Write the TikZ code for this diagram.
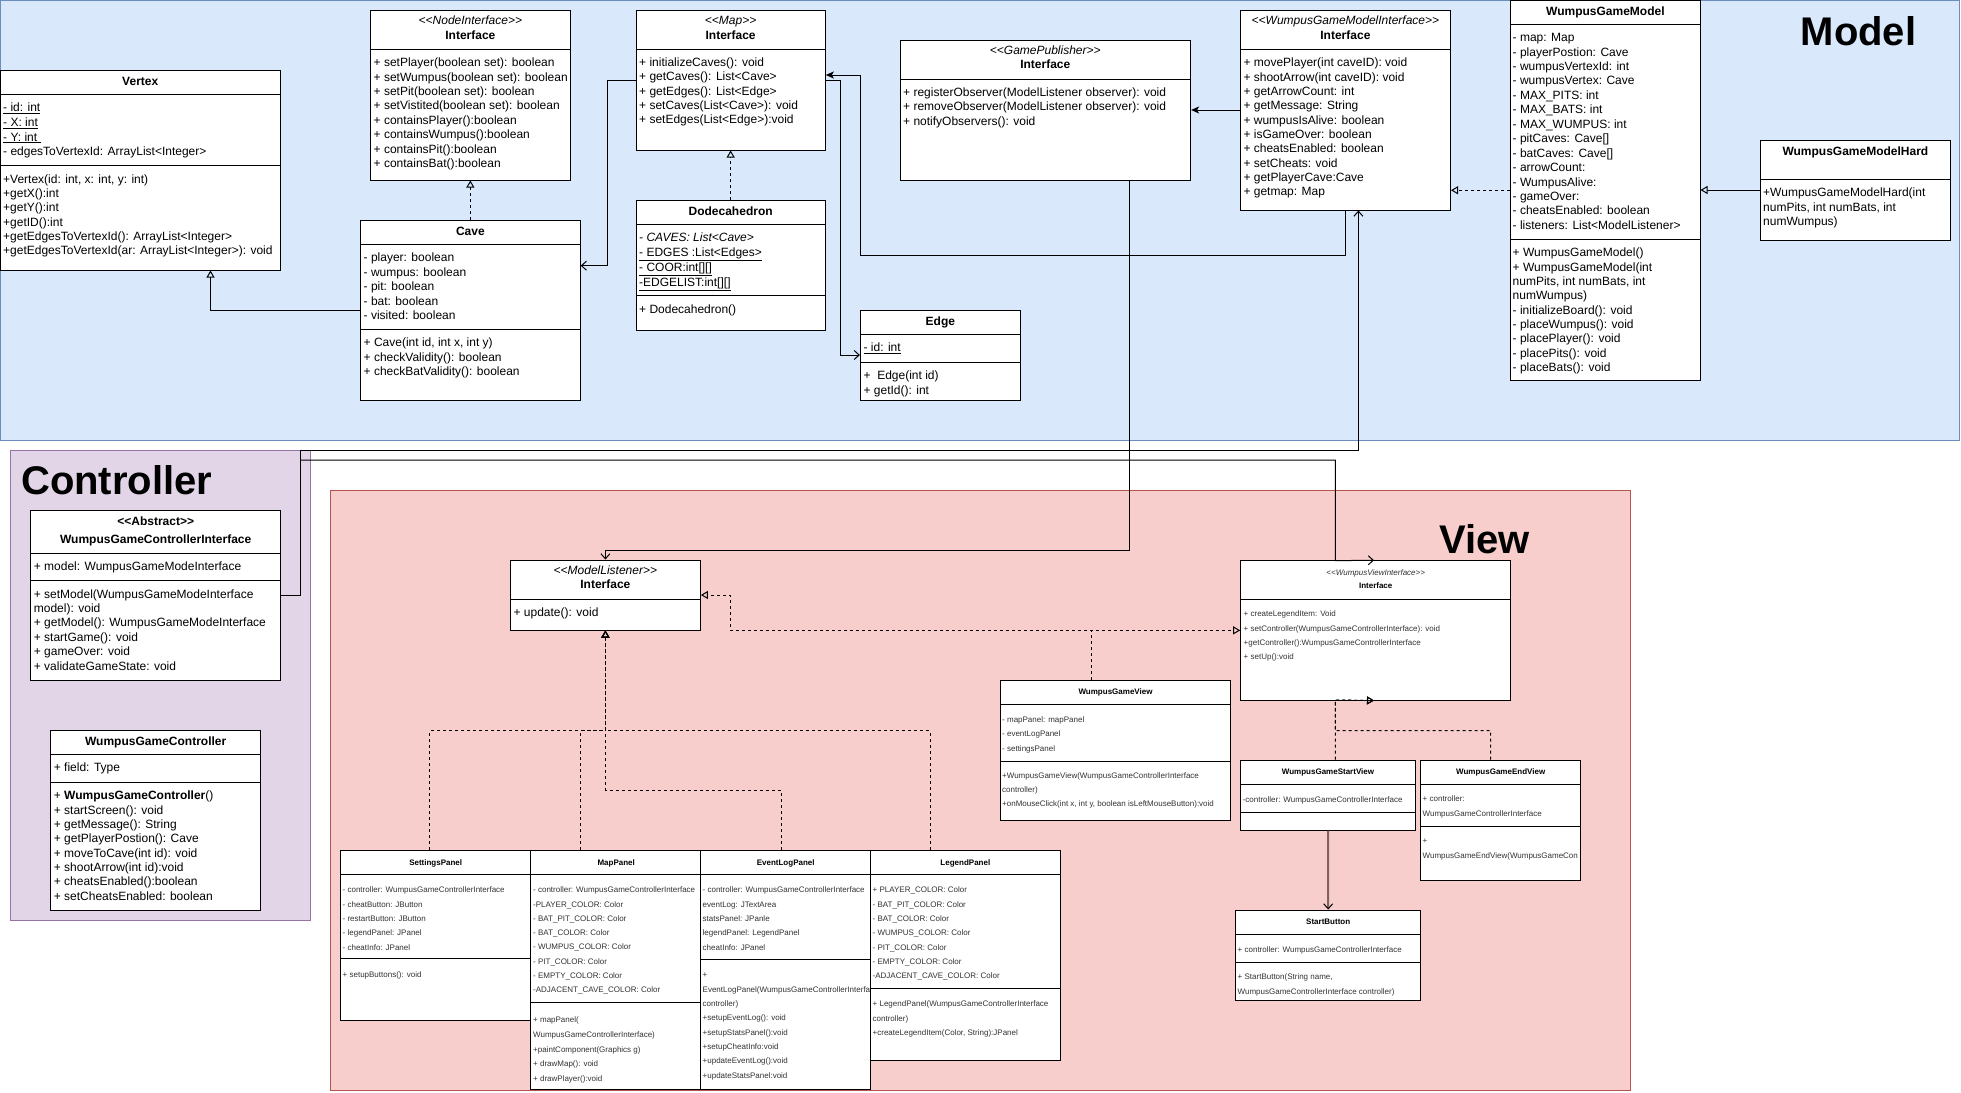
\documentclass[tikz,border=0pt]{standalone}
\usepackage{fontspec}
\setmainfont{Liberation Sans}[Ligatures=TeXOff]
\usetikzlibrary{fit,arrows.meta}
\definecolor{modelfill}{HTML}{DAE8FC}
\definecolor{modeldraw}{HTML}{6C8EBF}
\definecolor{ctrlfill}{HTML}{E1D5E7}
\definecolor{ctrldraw}{HTML}{9673A6}
\definecolor{viewfill}{HTML}{F8CECC}
\definecolor{viewdraw}{HTML}{B85450}
\definecolor{arrowbrown}{HTML}{7F6262}
\definecolor{smalltext}{HTML}{333333}
\tikzset{
 clsbox/.style={draw=black, fill=white, line width=1pt, inner sep=0pt},
 boxline/.style={draw=black, line width=1pt},
 region/.style={inner sep=0pt, line width=1pt},
 t12/.style={font=\fontsize{12}{14}\selectfont, inner sep=0pt, anchor=base west, text=black},
 h12/.style={font=\fontsize{12}{14}\selectfont\bfseries, inner sep=0pt, anchor=base, text=black},
 st12/.style={font=\fontsize{12}{14}\selectfont\itshape, inner sep=0pt, anchor=base, text=black},
 t8/.style={font=\fontsize{8}{10}\selectfont, inner sep=0pt, anchor=base west, text=smalltext},
 h8/.style={font=\fontsize{8}{10}\selectfont\bfseries, inner sep=0pt, anchor=base, text=black},
 st8/.style={font=\fontsize{8}{10}\selectfont\itshape, inner sep=0pt, anchor=base, text=smalltext},
 bigtitle/.style={font=\fontsize{40}{48}\selectfont\bfseries, inner sep=0pt, anchor=base west, text=black},
 realize/.style={line width=1pt, dash pattern=on 3pt off 3pt, -{Triangle[open,length=7pt,width=8pt]}},
 general/.style={line width=1pt, -{Triangle[open,length=7pt,width=8pt]}},
 assoc/.style={line width=1pt, -{Straight Barb[length=5pt,width=9pt]}},
 clsarrow/.style={line width=1pt, -{Stealth[length=8pt,width=7pt,inset=2pt]}},
 thickassoc/.style={line width=2pt, draw=arrowbrown, -{Straight Barb[length=5pt,width=9pt,color=black,line width=1pt]}},
}
\newcommand\umlbox[6]{%
 \node[clsbox, fit={(#2,#3) (#4,#5)}] (#1) {};
 \foreach \dv in {#6} {\draw[boxline] (#2,\dv) -- (#4,\dv);}}
\newcommand\txtlines[6]{%
 \foreach \lnx [count=\lni] in {#6} {\node[#1] (#2-\lni) at (#3,{#4+(\lni-1)*#5}) {\lnx};}}
\begin{document}
\begin{tikzpicture}[x=1pt,y=-1pt]
\useasboundingbox (0,0) rectangle (1961,1092);
\fill[white] (0,0) rectangle (1961,1092);
% regions
\node[region, draw=modeldraw, fill=modelfill, fit={(0.5,0.5) (1959.5,440)}] (modelreg) {};
\node[region, draw=ctrldraw, fill=ctrlfill, fit={(10,450) (310.7,920)}] (ctrlreg) {};
\node[region, draw=viewdraw, fill=viewfill, fit={(330,490) (1630.7,1090)}] (viewreg) {};
\node[bigtitle] (modelt) at (1800.5,45) {Model};
\node[bigtitle] (ctrlt) at (21,494.3) {Controller};
\node[bigtitle] (viewt) at (1439,553) {View};

% ---------- Model ----------
\umlbox{vertex}{0.5}{70}{280}{270}{94.3,165}
\node[h12] (vertex-h) at (140.25,85) {Vertex};
\txtlines{t12}{vtxa}{3}{111.7}{14.67}{\underline{- id: int},\underline{- X: int},\underline{- Y: int\ },- edgesToVertexId: ArrayList<Integer>}
\txtlines{t12}{vtxm}{3}{183}{14.34}{{+Vertex(id: int, x: int, y: int)},+getX():int,+getY():int,+getID():int,+getEdgesToVertexId(): ArrayList<Integer>,+getEdgesToVertexId(ar: ArrayList<Integer>): void}

\umlbox{nodei}{370.5}{10}{570.2}{180}{49.3}
\node[st12] (nodei-s) at (470.35,24.7) {<<NodeInterface>>};
\node[h12] (nodei-h) at (470.35,39) {Interface};
\txtlines{t12}{nodeim}{373.5}{66.7}{14.43}{+ setPlayer(boolean set): boolean,+ setWumpus(boolean set): boolean,+ setPit(boolean set): boolean,+ setVistited(boolean set): boolean,+ containsPlayer():boolean,+ containsWumpus():boolean,+ containsPit():boolean,+ containsBat():boolean}

\umlbox{cave}{360.5}{220}{580.2}{400}{244.3,329.3}
\node[h12] (cave-h) at (470.35,235) {Cave};
\txtlines{t12}{cavea}{363.5}{261.7}{14.5}{- player: boolean,- wumpus: boolean,- pit: boolean,- bat: boolean,- visited: boolean}
\txtlines{t12}{cavem}{363.5}{346.7}{14.5}{{+ Cave(int id, int x, int y)},+ checkValidity(): boolean,+ checkBatValidity(): boolean}

\umlbox{mapi}{636}{10}{825.3}{150}{49.3}
\node[st12] (mapi-s) at (730.65,24.7) {<<Map>>};
\node[h12] (mapi-h) at (730.65,39) {Interface};
\txtlines{t12}{mapim}{639}{66.7}{14.25}{+ initializeCaves(): void,+ getCaves(): List<Cave>,+ getEdges(): List<Edge>,+ setCaves(List<Cave>): void,+ setEdges(List<Edge>):void}

\umlbox{dodec}{636}{200}{825.3}{330}{224.3,295.3}
\node[h12] (dodec-h) at (730.65,215) {Dodecahedron};
\txtlines{t12}{dodeca}{639}{241.7}{14.77}{\textit{- CAVES: List<Cave>},\underline{- EDGES :List<Edges>},{\underline{- COOR:int[][]}},{\underline{-EDGELIST:int[][]}}}
\txtlines{t12}{dodecm}{639}{313}{14.3}{+ Dodecahedron()}

\umlbox{edge}{860.4}{310}{1020.4}{400}{334.3,362.3}
\node[h12] (edge-h) at (940.4,325) {Edge};
\txtlines{t12}{edgea}{863.4}{351.7}{14.3}{\underline{- id: int}}
\txtlines{t12}{edgem}{863.4}{379.7}{14.3}{+\ \ Edge(int id),+ getId(): int}

\umlbox{gpub}{900}{40}{1190.6}{180}{79.3}
\node[st12] (gpub-s) at (1045.3,54.7) {<<GamePublisher>>};
\node[h12] (gpub-h) at (1045.3,68.6) {Interface};
\txtlines{t12}{gpubm}{903}{96.3}{14.5}{+ registerObserver(ModelListener observer): void,+ removeObserver(ModelListener observer): void,+ notifyObservers(): void}

\umlbox{wgmi}{1240.3}{10}{1450.5}{210}{49.3}
\node[st12] (wgmi-s) at (1345.4,24.7) {<<WumpusGameModelInterface>>};
\node[h12] (wgmi-h) at (1345.4,39) {Interface};
\txtlines{t12}{wgmim}{1243.3}{66.7}{14.33}{+ movePlayer(int caveID): void,+ shootArrow(int caveID): void,+ getArrowCount: int,+ getMessage: String,+ wumpusIsAlive: boolean,+ isGameOver: boolean,+ cheatsEnabled: boolean,+ setCheats: void,+ getPlayerCave:Cave,+ getmap: Map}

\umlbox{wgm}{1510.7}{0.5}{1700}{380}{24,239}
\node[h12] (wgm-h) at (1605.35,15.3) {WumpusGameModel};
\txtlines{t12}{wgma}{1512.5}{41.7}{14.43}{- map: Map,- playerPostion: Cave,- wumpusVertexId: int,- wumpusVertex: Cave,- MAX\_PITS: int,- MAX\_BATS: int,- MAX\_WUMPUS: int,{- pitCaves: Cave[]},{- batCaves: Cave[]},- arrowCount:,- WumpusAlive:,- gameOver:,- cheatsEnabled: boolean,- listeners: List<ModelListener>}
\txtlines{t12}{wgmm}{1512.5}{256.7}{14.375}{+ WumpusGameModel(),+ WumpusGameModel(int,{numPits, int numBats, int},numWumpus),- initializeBoard(): void,- placeWumpus(): void,- placePlayer(): void,- placePits(): void,- placeBats(): void}

\umlbox{wgmh}{1760.5}{140}{1950.3}{240}{179.3}
\node[h12] (wgmh-h) at (1855.4,155) {WumpusGameModelHard};
\txtlines{t12}{wgmhm}{1763}{196.7}{14.5}{+WumpusGameModelHard(int,{numPits, int numBats, int},numWumpus)}

% ---------- Controller ----------
\umlbox{wgci}{30.7}{510}{280.7}{680}{553.3,580}
\node[h12] (wgci-s) at (155.7,525) {<<Abstract>>};
\node[h12] (wgci-h) at (155.7,543) {WumpusGameControllerInterface};
\txtlines{t12}{wgcia}{33.7}{570.7}{14.4}{+ model: WumpusGameModeInterface}
\txtlines{t12}{wgcim}{33.7}{598}{14.4}{+ setModel(WumpusGameModeInterface,model): void,+ getModel(): WumpusGameModeInterface,+ startGame(): void,+ gameOver: void,+ validateGameState: void}

\umlbox{wgc}{50.7}{730}{260.7}{910}{754,782.3}
\node[h12] (wgc-h) at (155.7,745) {WumpusGameController};
\txtlines{t12}{wgca}{53.7}{771.7}{14.4}{+ field: Type}
\txtlines{t12}{wgcm}{53.7}{799.7}{14.33}{+ \textbf{WumpusGameController}(),+ startScreen(): void,+ getMessage(): String,+ getPlayerPostion(): Cave,+ moveToCave(int id): void,+ shootArrow(int id):void,+ cheatsEnabled():boolean,+ setCheatsEnabled: boolean}

% ---------- View ----------
\umlbox{mli}{510.4}{560}{700.4}{630}{599.3}
\node[st12] (mli-s) at (605.4,574.7) {<<ModelListener>>};
\node[h12] (mli-h) at (605.4,588.6) {Interface};
\txtlines{t12}{mlim}{513.4}{616.7}{14.3}{+ update(): void}

\umlbox{wvi}{1240.7}{560.7}{1510.7}{700}{599.3}
\node[st8] (wvi-s) at (1375.7,575) {<<WumpusViewInterface>>};
\node[h8] (wvi-h) at (1375.7,588.8) {Interface};
\txtlines{t8}{wvim}{1243.5}{616.8}{14.33}{+ createLegendItem: Void,+ setController(WumpusGameControllerInterface): void,+getController():WumpusGameControllerInterface,+ setUp():void}

\umlbox{wgv}{1000.4}{680}{1230.7}{820}{704,761}
\node[h8] (wgv-h) at (1115.55,694.8) {WumpusGameView};
\txtlines{t8}{wgva}{1002}{722}{14.5}{- mapPanel: mapPanel,- eventLogPanel,- settingsPanel}
\txtlines{t8}{wgvm}{1002}{778.8}{14}{+WumpusGameView(WumpusGameControllerInterface,controller),{+onMouseClick(int x, int y, boolean isLeftMouseButton):void}}

\umlbox{startv}{1240.7}{760}{1415.3}{830}{784.3,812.3}
\node[h8] (startv-h) at (1328,774.5) {WumpusGameStartView};
\txtlines{t8}{startva}{1242.5}{802}{15}{-controller: WumpusGameControllerInterface}

\umlbox{endv}{1420.7}{760}{1580.7}{880}{784.3,826}
\node[h8] (endv-h) at (1500.7,774.5) {WumpusGameEndView};
\txtlines{t8}{endva}{1422.5}{801.8}{15}{+ controller:,WumpusGameControllerInterface}
\txtlines{t8}{endvm}{1422.5}{843.8}{15}{+,WumpusGameEndView(WumpusGameCon}

\umlbox{startb}{1235.7}{910}{1420.7}{1000.7}{934.3,962.7}
\node[h8] (startb-h) at (1328.2,924.5) {StartButton};
\txtlines{t8}{startba}{1237.5}{952}{15}{+ controller: WumpusGameControllerInterface}
\txtlines{t8}{startbm}{1237.5}{979.5}{15}{{+ StartButton(String name,},WumpusGameControllerInterface controller)}

\umlbox{setp}{340.7}{850}{530.7}{1020}{874,958.3}
\node[h8] (setp-h) at (435.7,865) {SettingsPanel};
\txtlines{t8}{setpa}{342.5}{892.8}{14.33}{- controller: WumpusGameControllerInterface,- cheatButton: JButton,- restartButton: JButton,- legendPanel: JPanel,- cheatInfo: JPanel}
\txtlines{t8}{setpm}{342.5}{977.8}{14.33}{+ setupButtons(): void}

\umlbox{mapp}{530.7}{850}{701.7}{1089}{874,1002.7}
\node[h8] (mapp-h) at (616.2,865) {MapPanel};
\txtlines{t8}{mappa}{533}{892.8}{14.29}{- controller: WumpusGameControllerInterface,-PLAYER\_COLOR: Color,- BAT\_PIT\_COLOR: Color,- BAT\_COLOR: Color,- WUMPUS\_COLOR: Color,- PIT\_COLOR: Color,- EMPTY\_COLOR: Color,-ADJACENT\_CAVE\_COLOR: Color}
\txtlines{t8}{mappm}{533}{1022.8}{14.6}{+ mapPanel(,WumpusGameControllerInterface),+paintComponent(Graphics g),+ drawMap(): void,+ drawPlayer():void}

\umlbox{evp}{700.7}{850}{870.7}{1089}{874,959}
\node[h8] (evp-h) at (785.7,865) {EventLogPanel};
\txtlines{t8}{evpa}{702.5}{892.8}{14.33}{- controller: WumpusGameControllerInterface,eventLog: JTextArea,statsPanel: JPanle,legendPanel: LegendPanel,cheatInfo: JPanel}
\txtlines{t8}{evpm}{702.5}{977.8}{14.33}{+,EventLogPanel(WumpusGameControllerInterfa,controller),+setupEventLog(): void,+setupStatsPanel():void,+setupCheatInfo:void,+updateEventLog():void,+updateStatsPanel:void}

\umlbox{legp}{870.7}{850}{1060}{1060}{874,988.3}
\node[h8] (legp-h) at (965.35,865) {LegendPanel};
\txtlines{t8}{legpa}{872.5}{892.8}{14.33}{+ PLAYER\_COLOR: Color,- BAT\_PIT\_COLOR: Color,- BAT\_COLOR: Color,- WUMPUS\_COLOR: Color,- PIT\_COLOR: Color,- EMPTY\_COLOR: Color,-ADJACENT\_CAVE\_COLOR: Color}
\txtlines{t8}{legpm}{872.5}{1006.8}{14.33}{+ LegendPanel(WumpusGameControllerInterface,controller),{+createLegendItem(Color, String):JPanel}}

% ---------- Connectors ----------
\draw[realize] (cave.north) -- (nodei.south);
\draw[general] (cave.west) -| ([xshift=70.25pt]vertex.south);
\draw[assoc] (mapi.west) -- (607.3,80) |- ([yshift=44.3pt]cave.east);
\draw[assoc] (mapi.east) -- (840,80) |- (edge.west);
\draw[realize] (dodec.north) -- (mapi.south);
\draw[clsarrow] (wgmi.south) |- (860.4,255) -- (860.4,75) -- ([yshift=5pt]mapi.east);
\draw[clsarrow] (wgmi.west) -- (gpub.east);
\draw[realize] (wgm.west) -- (wgm.west -| wgmi.east);
\draw[general] (wgmh.west) -- (wgmh.west -| wgm.east);
\draw[assoc] ([xshift=84.5pt]gpub.south) |- (605.4,550) -- (mli.north);
\draw[assoc] (wgci.east) -- (300.7,595) -- (300.7,450) -| ([xshift=13pt]wgmi.south);
\coordinate (cjoin) at (300.7,460);
\draw[assoc] (cjoin) -| (1335.3,560.7) -- ([xshift=-1.7pt]wvi.north);
\draw[realize] ([xshift=-24.55pt]wgv.north) |- (wvi.west);
\draw[realize] ([xshift=-24.55pt]wgv.north) |- (730,630) |- (mli.east);
\draw[realize] ([xshift=7.3pt]startv.north) -- (1335.3,700) -- ([xshift=-1.7pt]wvi.south);
\draw[realize] ([xshift=-10pt]endv.north) |- (1335.3,730.7) -- (1335.3,700) -- ([xshift=-1.7pt]wvi.south);
\draw[thickassoc] (startv.south) -- (startb.north);
\draw[realize] ([xshift=-6pt]setp.north) |- (605.4,730.7) -- (mli.south);
\draw[realize] ([xshift=-35.5pt]mapp.north) |- (605.4,730.7) -- (mli.south);
\draw[realize] ([xshift=-35.35pt]legp.north) |- (605.4,730.7) -- (mli.south);
\draw[realize] ([xshift=-4.5pt]evp.north) |- (605.4,790) -- (mli.south);
\end{tikzpicture}
\end{document}
